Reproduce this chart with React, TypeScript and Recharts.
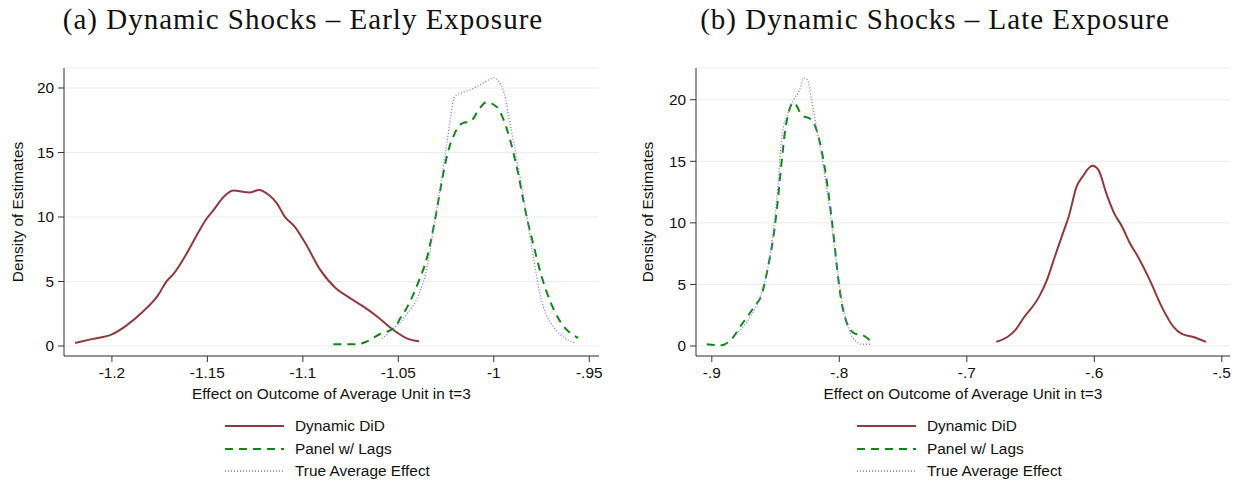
import React from 'react';
import { LineChart, Line, XAxis, YAxis, CartesianGrid, Legend, Label } from 'recharts';

// ---------- Data ----------
const yTicks = [0, 5, 10, 15, 20];
const earlyXTicks = [-1.2, -1.15, -1.1, -1.05, -1, -0.95];
const lateXTicks = [-0.9, -0.8, -0.7, -0.6, -0.5];

const seriesNames = ['Dynamic DiD', 'Panel w/ Lags', 'True Average Effect'];

// (a) Early exposure
const earlyDidX = [-1.2193, -1.21, -1.2, -1.1923, -1.184, -1.1758, -1.1716, -1.1675, -1.1613, -1.155, -1.1509, -1.1468, -1.1405, -1.1364, -1.128, -1.1229, -1.1178, -1.1136, -1.1095, -1.1043, -1.0991, -1.0908, -1.0826, -1.0763, -1.068, -1.0608, -1.0536, -1.0453, -1.0391];
const earlyDidY = [0.23, 0.55, 0.9, 1.6, 2.64, 3.94, 4.97, 5.62, 7.05, 8.73, 9.77, 10.54, 11.7, 12.05, 11.89, 12.1, 11.7, 11.06, 10.03, 9.25, 8.08, 5.88, 4.46, 3.81, 3.03, 2.25, 1.35, 0.57, 0.36];

const earlyLagX = [-1.084, -1.0722, -1.0671, -1.0598, -1.0515, -1.0494, -1.0453, -1.0391, -1.0349, -1.0308, -1.0277, -1.0246, -1.0204, -1.0163, -1.0121, -1.008, -1.0039, -0.9987, -0.9956, -0.9915, -0.9873, -0.9832, -0.979, -0.9749, -0.9707, -0.9645, -0.9558];
const earlyLagY = [0.13, 0.13, 0.31, 0.91, 1.48, 2.05, 3.03, 5.1, 6.9, 9.77, 12.36, 14.69, 16.5, 17.28, 17.41, 18.3, 18.9, 18.57, 17.8, 16.0, 13.4, 10.3, 7.7, 5.36, 3.55, 1.74, 0.62];

const earlyTrueX = [-1.0587, -1.0515, -1.0453, -1.0391, -1.0349, -1.0308, -1.0277, -1.0246, -1.0204, -1.0173, -1.0121, -1.006, -0.9998, -0.9973, -0.9946, -0.9915, -0.9873, -0.9832, -0.979, -0.9759, -0.9728, -0.9687, -0.9624, -0.9572];
const earlyTrueY = [0.57, 1.48, 2.51, 4.07, 6.14, 9.77, 12.6, 15.7, 19.35, 19.6, 19.87, 20.34, 20.78, 20.5, 19.6, 17.28, 13.9, 10.5, 6.66, 4.07, 2.51, 1.48, 0.57, 0.23];

// (b) Late exposure
const lateDidX = [-0.6769, -0.6682, -0.662, -0.6558, -0.6434, -0.6372, -0.631, -0.6247, -0.6201, -0.6139, -0.6092, -0.6015, -0.5968, -0.5906, -0.5844, -0.5782, -0.572, -0.5658, -0.5565, -0.5471, -0.5379, -0.5317, -0.5224, -0.5124];
const lateDidY = [0.33, 0.73, 1.28, 2.23, 3.99, 5.35, 7.25, 9.15, 10.5, 12.94, 13.76, 14.63, 14.3, 12.4, 10.77, 9.69, 8.33, 7.25, 5.35, 3.18, 1.55, 1.0, 0.73, 0.33];

const lateLagX = [-0.904, -0.8932, -0.8854, -0.8761, -0.8668, -0.8606, -0.8559, -0.8513, -0.8482, -0.8451, -0.842, -0.8358, -0.8296, -0.8218, -0.8171, -0.8125, -0.8078, -0.8047, -0.8016, -0.7985, -0.7939, -0.7877, -0.7815, -0.7759];
const lateLagY = [0.14, 0.05, 0.46, 1.82, 3.18, 4.26, 6.43, 9.15, 11.86, 15.12, 17.83, 19.78, 18.78, 18.37, 17.29, 15.12, 11.86, 9.15, 6.16, 3.72, 1.82, 1.0, 0.87, 0.46];

const lateTrueX = [-0.8792, -0.8699, -0.8621, -0.8559, -0.8513, -0.8482, -0.8451, -0.8404, -0.8358, -0.8311, -0.828, -0.8249, -0.8218, -0.8171, -0.8125, -0.8078, -0.8032, -0.7985, -0.7939, -0.7877, -0.7815, -0.7759];
const lateTrueY = [1.14, 2.36, 3.99, 6.43, 9.69, 12.94, 17.0, 18.9, 20.0, 20.8, 21.76, 21.6, 20.0, 17.29, 14.57, 11.3, 7.52, 3.99, 1.82, 0.46, 0.14, 0.14];

const zip = (xs: number[], ys: number[]) => xs.map((x, i) => ({ x, y: ys[i] }));

// ---------- Styles ----------
const RED = '#8F3A3E';
const GREEN = '#13861A';
const BLUE = '#7474FF';
const AXIS = '#333333';
const SANS = '"Liberation Sans", Arial, sans-serif';
const SERIF = '"Liberation Serif", "Times New Roman", serif';
const FS = 15.4;

const styles = [
  { color: RED, dash: undefined as string | undefined, width: 2 },
  { color: GREEN, dash: '8 6', width: 2 },
  { color: BLUE, dash: '1 2', width: 1.3 },
];

const fmt = (v: number) => {
  const s = String(Math.round(v * 100) / 100);
  return s.replace(/^(-?)0\./, '$1.');
};

const LegendBox = () => (
  <div style={{ fontFamily: SANS, fontSize: FS, color: '#111' }}>
    {seriesNames.map((n, i) => (
      <div key={n} style={{ display: 'flex', alignItems: 'center', height: 22.5 }}>
        <svg width={60} height={10} style={{ marginRight: 10 }}>
          <line x1={0} y1={5} x2={59} y2={5} stroke={styles[i].color} strokeWidth={styles[i].width} strokeDasharray={styles[i].dash} />
        </svg>
        <span>{n}</span>
      </div>
    ))}
  </div>
);

type PanelProps = {
  title: string;
  titleCenter: number;
  xDomain: [number, number];
  yDomain: [number, number];
  xTicks: number[];
  data: { x: number; y: number }[][];
  marginLeft: number;
  marginRight: number;
  legendLeft: number;
  ylabelOffset: number;
};

const W = 619;
const H = 484;

const Panel = (p: PanelProps) => (
  <div style={{ position: 'relative', width: W, height: H }}>
    <div
      style={{
        position: 'absolute',
        top: 1,
        left: p.titleCenter - 300,
        width: 600,
        textAlign: 'center',
        fontFamily: SERIF,
        fontSize: 29,
        letterSpacing: 1,
        lineHeight: '36px',
        color: '#111',
        whiteSpace: 'nowrap',
      }}
    >
      {p.title}
    </div>
    <LineChart
      width={W}
      height={H}
      margin={{ top: 68, right: p.marginRight, bottom: 84, left: p.marginLeft }}
    >
      <CartesianGrid horizontal vertical={false} stroke="#EBEBEB" strokeWidth={1} />
      <XAxis
        type="number"
        dataKey="x"
        domain={p.xDomain}
        ticks={p.xTicks}
        tickFormatter={fmt}
        allowDataOverflow
        height={44}
        tickSize={6}
        tickMargin={5}
        stroke={AXIS}
        tick={{ fill: '#111', fontFamily: SANS, fontSize: FS }}
        interval={0}
      >
        <Label
          value="Effect on Outcome of Average Unit in t=3"
          position="insideBottom"
          offset={1}
          style={{ fill: '#111', fontFamily: SANS, fontSize: FS }}
        />
      </XAxis>
      <YAxis
        type="number"
        domain={p.yDomain}
        ticks={yTicks}
        allowDataOverflow
        width={50}
        tickSize={6}
        tickMargin={4}
        stroke={AXIS}
        tick={{ fill: '#111', fontFamily: SANS, fontSize: FS }}
        interval={0}
      >
        <Label
          value="Density of Estimates"
          angle={-90}
          position="insideLeft"
          offset={p.ylabelOffset}
          style={{ fill: '#111', fontFamily: SANS, fontSize: FS, textAnchor: 'middle' }}
        />
      </YAxis>
      <Legend
        layout="vertical"
        align="center"
        verticalAlign="middle"
        content={() => <LegendBox />}
        wrapperStyle={{ top: 415, left: p.legendLeft, width: 220, height: 70 }}
      />
      {p.data.map((d, i) => (
        <Line
          key={seriesNames[i]}
          name={seriesNames[i]}
          data={d}
          dataKey="y"
          type="monotone"
          stroke={styles[i].color}
          strokeWidth={styles[i].width}
          strokeDasharray={styles[i].dash}
          dot={false}
          activeDot={false}
          isAnimationActive={false}
        />
      ))}
    </LineChart>
  </div>
);

export default function App() {
  return (
    <div style={{ position: 'absolute', left: 0, top: 0, width: 1238, height: 484, background: '#fff', display: 'flex' }}>
      <Panel
        title="(a) Dynamic Shocks – Early Exposure"
        titleCenter={303}
        xDomain={[-1.2251, -0.9449]}
        yDomain={[-0.777, 21.55]}
        xTicks={earlyXTicks}
        data={[zip(earlyDidX, earlyDidY), zip(earlyLagX, earlyLagY), zip(earlyTrueX, earlyTrueY)]}
        marginLeft={14}
        marginRight={20}
        legendLeft={225}
        ylabelOffset={4}
      />
      <Panel
        title="(b) Dynamic Shocks – Late Exposure"
        titleCenter={316}
        xDomain={[-0.9124, -0.4936]}
        yDomain={[-0.814, 22.58]}
        xTicks={lateXTicks}
        data={[zip(lateDidX, lateDidY), zip(lateLagX, lateLagY), zip(lateTrueX, lateTrueY)]}
        marginLeft={27}
        marginRight={8}
        legendLeft={238}
        ylabelOffset={2}
      />
    </div>
  );
}
